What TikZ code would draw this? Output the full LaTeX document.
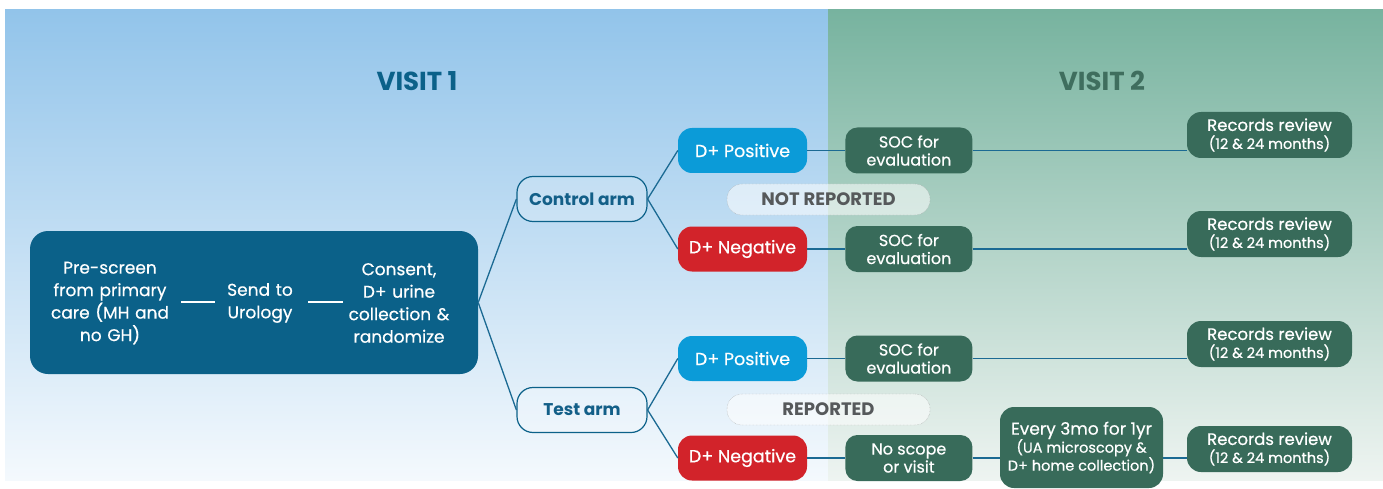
\documentclass[tikz,border=0pt]{standalone}
\usepackage{fontspec}
\setmainfont{Poppins}[UprightFeatures={FakeBold=0.5}]
\usepackage{tikz}
\usetikzlibrary{positioning}

\definecolor{navy}{HTML}{0B6189}
\definecolor{wire}{HTML}{1B6A93}
\definecolor{armtext}{HTML}{135F88}
\definecolor{posblue}{HTML}{0B9BD8}
\definecolor{negred}{HTML}{D2232A}
\definecolor{dkgreen}{HTML}{386B5A}
\definecolor{visittwo}{HTML}{3F6E5E}
\definecolor{notetext}{HTML}{56595B}
\definecolor{bluetop}{HTML}{92C4EA}
\definecolor{bluebot}{HTML}{F4F9FD}
\definecolor{greentop}{HTML}{77B39F}
\definecolor{greenbot}{HTML}{EEF4F1}

\newcommand{\subline}[1]{{\fontsize{14.5}{17.5}\selectfont #1}}

\tikzset{
  pill/.style={rounded corners=14pt, inner sep=0pt, align=center, text=white,
    font=\fontsize{16}{18}\selectfont},
  mainbox/.style={pill, fill=navy, rounded corners=18pt, minimum width=448pt, minimum height=143pt},
  intext/.style={text=white, align=center, inner sep=0pt, font=\fontsize{17}{22.5}\selectfont},
  armbox/.style={pill, draw=navy, line width=1.2pt, fill=white, fill opacity=.2, text opacity=1,
    text=armtext, font=\fontsize{17}{19}\selectfont\bfseries,
    minimum width=130pt, minimum height=45pt, rounded corners=16pt},
  posbox/.style={pill, fill=posblue, minimum width=129pt, minimum height=45pt,
    font=\fontsize{17.5}{19}\selectfont},
  negbox/.style={posbox, fill=negred},
  socbox/.style={pill, fill=dkgreen, minimum width=127pt, minimum height=46pt, rounded corners=12pt},
  recbox/.style={socbox, minimum width=165pt, rounded corners=14pt, font=\fontsize{16.5}{18}\selectfont},
  notebox/.style={pill, draw=gray!75, densely dotted, fill=white, fill opacity=.55, text opacity=1,
    text=notetext, font=\fontsize{18}{19}\selectfont\bfseries,
    minimum width=203pt, minimum height=31pt, rounded corners=15pt},
  link/.style={draw=wire, line width=1.3pt},
  sep/.style={draw=white, line width=1.5pt},
  visit/.style={font=\fontsize{26}{30}\selectfont\bfseries},
}

\begin{document}
\begin{tikzpicture}[x=1pt, y=-1pt]
  \useasboundingbox (0,0) rectangle (1383,489);
  % two visit panels
  \shade[top color=bluetop, bottom color=bluebot] (5,10) rectangle (828,480);
  \shade[top color=greentop, bottom color=greenbot] (828,10) rectangle (1383,480);

  \node[visit, text=navy] (v1) at (417,81) {VISIT 1};
  \node[visit, text=visittwo] (v2) at (1102,81) {VISIT 2};

  % visit 1
  \node[mainbox] (main) at (254,302.5) {};
  \node[intext, text width=124pt] (prescreen) at (110,303) {Pre-screen\\from primary\\care (MH and\\no GH)};
  \node[intext, text width=76pt] (urology) at (260,303) {Send to\\Urology};
  \node[intext, text width=112pt] (consent) at (399,303) {Consent,\\D+ urine\\collection \&\\randomize};
  \draw[sep, shorten <=9pt, shorten >=7pt] (prescreen.east |- 0,302) -- (urology.west |- 0,302);
  \draw[sep, shorten <=10pt] (urology.east |- 0,302) -- (consent.west |- 0,302);

  \node[armbox] (ctrl) at (582,199) {Control arm};
  \node[armbox] (test) at (582,410) {Test arm};

  \node[posbox] (pos1) at (742.5,150.5) {D+ Positive};
  \node[negbox] (neg1) at (742.5,249) {D+ Negative};
  \node[posbox] (pos2) at (742.5,358.5) {D+ Positive};
  \node[negbox] (neg2) at (742.5,458) {D+ Negative};

  \node[notebox] (notrep) at (828.5,199.5) {NOT REPORTED};
  \node[notebox] (rep) at (828.5,409.5) {REPORTED};

  % visit 2
  \node[socbox, right=38pt of pos1] (soc1) {SOC for\\evaluation};
  \node[socbox, right=38pt of neg1] (soc2) {SOC for\\evaluation};
  \node[socbox, right=38pt of pos2] (soc3) {SOC for\\evaluation};
  \node[socbox, right=38pt of neg2] (noscope) {No scope\\or visit};

  \node[socbox, minimum width=163pt, minimum height=81pt, rounded corners=14pt,
    font=\fontsize{17}{18}\selectfont] (every) at (1081.5,447.5)
    {Every 3mo for 1yr\\\subline{(UA microscopy \&}\\\subline{D+ home collection)}};

  \node[recbox] (rec1) at (1269.5,135) {Records review\\\subline{(12 \& 24 months)}};
  \node[recbox] (rec2) at (1269.5,234) {Records review\\\subline{(12 \& 24 months)}};
  \node[recbox] (rec3) at (1269.5,344) {Records review\\\subline{(12 \& 24 months)}};
  \node[recbox] (rec4) at (1269.5,449) {Records review\\\subline{(12 \& 24 months)}};

  % connectors
  \draw[link] (main.east) -- (ctrl.west);
  \draw[link] (main.east) -- (test.west);
  \draw[link] (ctrl.east) -- (pos1.west);
  \draw[link] (ctrl.east) -- (neg1.west);
  \draw[link] (test.east) -- (pos2.west);
  \draw[link] (test.east) -- (neg2.west);
  \draw[link] (pos1.east) -- (soc1.west);
  \draw[link] (neg1.east) -- (soc2.west);
  \draw[link] (pos2.east) -- (soc3.west);
  \draw[link] (neg2.east) -- (noscope.west);
  \draw[link] (soc1.east) -- (soc1.east -| rec1.west);
  \draw[link] (soc2.east) -- (soc2.east -| rec2.west);
  \draw[link] (soc3.east) -- (soc3.east -| rec3.west);
  \draw[link] (noscope.east) -- (noscope.east -| every.west);
  \draw[link] (noscope.east -| every.east) -- (noscope.east -| rec4.west);
\end{tikzpicture}
\end{document}
